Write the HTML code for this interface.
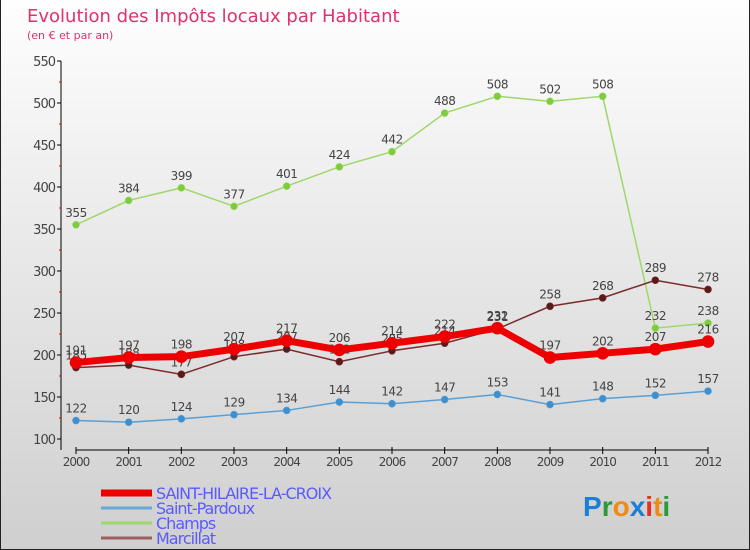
<!DOCTYPE html>
<html><head><meta charset="utf-8"><style>
body{margin:0}
#c{width:750px;height:550px;position:relative;background:linear-gradient(#fefefe,#cfcfcf);box-sizing:border-box;border:1px solid #222;border-top:none;font-family:"DejaVu Sans","Liberation Sans",sans-serif;overflow:hidden}
svg{position:absolute;left:0;top:0}
</style></head><body>
<div id="c">
<svg id="s" width="750" height="550">
<text x="26" y="22" font-size="18" fill="#e0306e">Evolution des Impôts locaux par Habitant</text>
<text x="26" y="39" font-size="11" fill="#e0306e">(en € et par an)</text>
</svg>
</div>
<script>
const years=[2000,2001,2002,2003,2004,2005,2006,2007,2008,2009,2010,2011,2012];
const yTicks=[100,150,200,250,300,350,400,450,500,550];
const sh=[191,197,198,207,217,206,214,222,232,197,202,207,216];
const sp=[122,120,124,129,134,144,142,147,153,141,148,152,157];
const ch=[355,384,399,377,401,424,442,488,508,502,508,232,238];
const ma=[185,188,177,198,207,192,205,214,231,258,268,289,278];
const svg=document.getElementById('s');const NS='http://www.w3.org/2000/svg';
const X=i=>75+i*(632/(years.length-1));
const Y=v=>439-(v-100)*(378/450);
function mk(t,a,p){const e=document.createElementNS(NS,t);for(const k in a)e.setAttribute(k,a[k]);(p||svg).appendChild(e);return e;}
// axes
let e=mk('line',{x1:60,y1:61,x2:60,y2:450,stroke:'#000'});

e=mk('line',{x1:75,y1:450,x2:707,y2:450,stroke:'#000'});

yTicks.forEach((v,i)=>{mk('line',{x1:56,x2:60,y1:Y(v),y2:Y(v),stroke:'#000'});
 if(i<yTicks.length-1)mk('line',{x1:58,x2:60,y1:Y(v+25),y2:Y(v+25),stroke:'#e00'});
 const t=mk('text',{x:54,y:Y(v)+5,'text-anchor':'end','font-size':13,fill:'#444','letter-spacing':'-1'});t.textContent=v;
 });
years.forEach((y,i)=>{mk('line',{x1:X(i),x2:X(i),y1:447,y2:454,stroke:'#000'});
 const t=mk('text',{x:X(i),y:466,'text-anchor':'middle','font-size':12,fill:'#444','letter-spacing':'-1'});t.textContent=y;
 });
function series(d,col,dot,w,r,name){const g=mk('g',{});
 
 mk('polyline',{points:d.map((v,i)=>X(i)+','+Y(v)).join(' '),fill:'none',stroke:col,'stroke-width':w},g);
 d.forEach((v,i)=>{const c=mk('circle',{cx:X(i),cy:Y(v),r:r,fill:dot,stroke:col,'stroke-width':0.6},g);
  
  const t=mk('text',{x:X(i),y:Y(v)-8,'text-anchor':'middle','font-size':12,fill:'#444','letter-spacing':'-0.5'},g);t.textContent=v;});}
series(sp,'#5a9fd4','#3d8fd0',1.5,3.5,'saint-pardoux');
series(ch,'#9ed86a','#7ccc3c',1.5,3.5,'champs');
series(ma,'#7a2c2c','#5a1a1a',1.5,3.5,'marcillat');
series(sh,'#ee0000','#ee0000',7,6,'saint-hilaire');
const leg=[['SAINT-HILAIRE-LA-CROIX','#ee0000',7],['Saint-Pardoux','#6aa8d8',3],['Champs','#9ed86a',3],['Marcillat','#9a6060',3]];
leg.forEach((l,i)=>{const y=493+i*15;const g=mk('g',{});
 
 mk('line',{x1:100,x2:151,y1:y,y2:y,stroke:l[1],'stroke-width':l[2]},g);
 const t=mk('text',{x:155,y:y+6,'font-size':16,fill:'#5a5aff','letter-spacing':'-1'},g);t.textContent=l[0];});
const p=mk('text',{x:582,y:516,'font-size':28,'font-weight':'bold','font-family':'Liberation Sans, sans-serif'});

[['P','#1a7fd8'],['r','#2a9a3a'],['o','#f08a10'],['x','#1a7fd8'],['i','#e83020'],['t','#f08a10'],['i','#2a9a3a']].forEach(a=>{const s=mk('tspan',{fill:a[1]},p);s.textContent=a[0];});
</script>
</body></html>
